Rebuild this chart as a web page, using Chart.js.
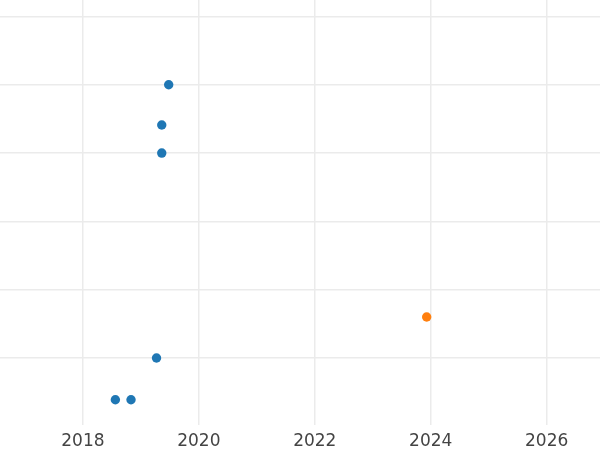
<!DOCTYPE html>
<html>
<head>
<meta charset="utf-8">
<script src="https://cdn.jsdelivr.net/npm/chart.js@4"></script>
<style>
  body { margin: 0; background: #fff; }
  #wrap { width: 600px; height: 450px; }
</style>
</head>
<body>
<div id="wrap"><canvas id="chart" width="600" height="450"></canvas></div>
<script>
// Values
const blueX = [2019.48, 2019.36, 2019.36, 2019.27, 2018.56, 2018.83];
const blueY = [5.0, 4.41, 4.0, 1.0, 0.39, 0.39];
const orangeX = [2023.93];
const orangeY = [1.6];

const xTicks = [2018, 2020, 2022, 2024, 2026];
const yTicks = [1, 2, 3, 4, 5, 6];

const toPoints = (xs, ys) => xs.map((x, i) => ({ x: x, y: ys[i] }));

const ctx = document.getElementById('chart').getContext('2d');
new Chart(ctx, {
    type: 'scatter',
    data: {
        datasets: [{
            data: toPoints(blueX, blueY),
            backgroundColor: '#1f77b4',
            borderWidth: 0,
            pointRadius: 4.7
        }, {
            data: toPoints(orangeX, orangeY),
            backgroundColor: '#ff7f0e',
            borderWidth: 0,
            pointRadius: 4.7
        }]
    },
    options: {
        responsive: false,
        animation: false,
        layout: { padding: 0, autoPadding: false },
        plugins: {
            legend: { display: false },
            tooltip: { enabled: false }
        },
        scales: {
            x: {
                type: 'linear',
                min: 2016.57,
                max: 2026.92,
                border: { display: false },
                grid: { color: '#ebebeb', lineWidth: 1.5, drawTicks: false },
                ticks: {
                    color: '#444',
                    padding: 6,
                    font: { family: 'DejaVu Sans', size: 17 },
                    callback: v => String(v)
                },
                afterBuildTicks: scale => { scale.ticks = xTicks.map(v => ({ value: v })); },
                afterFit: scale => { scale.height = 25; }
            },
            y: {
                min: 0.02,
                max: 6.24,
                border: { display: false },
                grid: { color: '#ebebeb', lineWidth: 1.5, drawTicks: false },
                ticks: { display: false },
                afterBuildTicks: scale => { scale.ticks = yTicks.map(v => ({ value: v })); },
                afterFit: scale => { scale.width = 0; }
            }
        }
    }
});
</script>
</body>
</html>
